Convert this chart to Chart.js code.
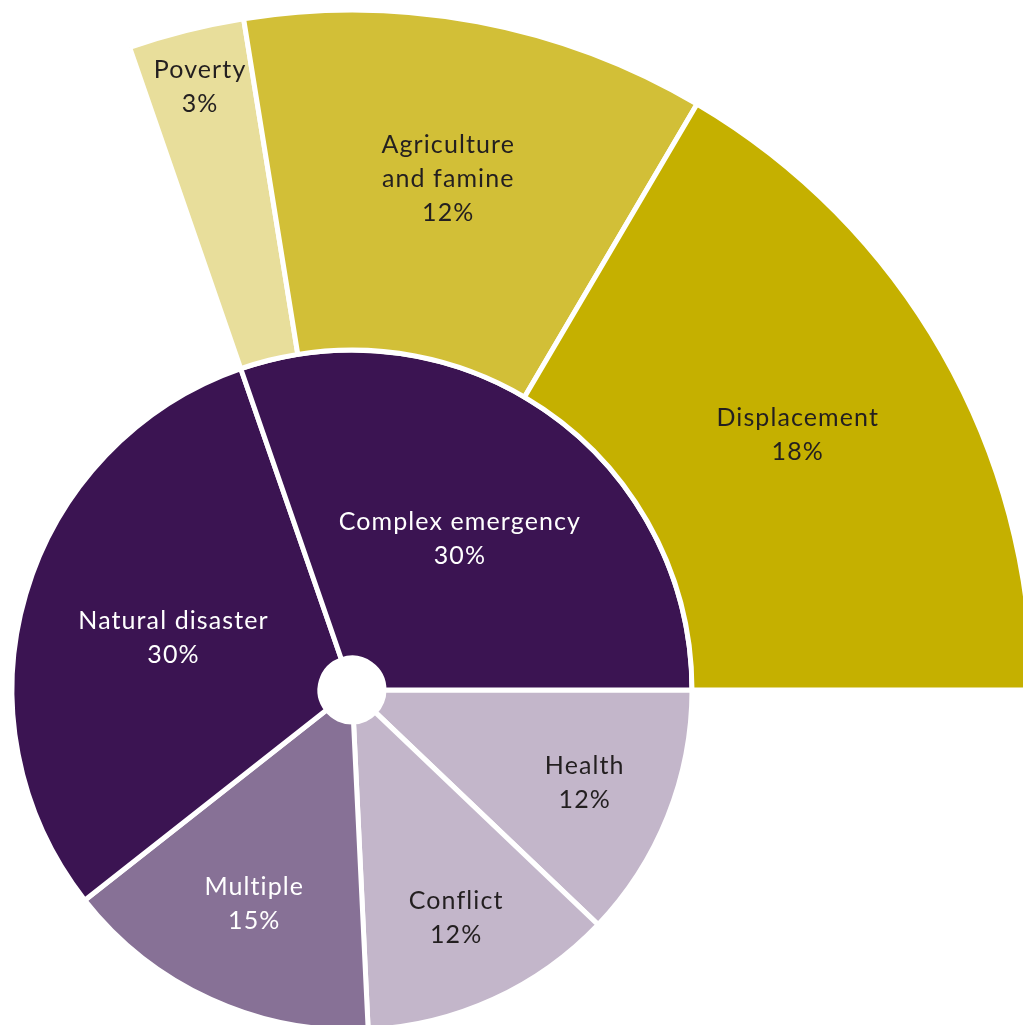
<!DOCTYPE html>
<html>
<head>
<meta charset="utf-8">
<script src="https://cdn.jsdelivr.net/npm/chart.js@4.4.1/dist/chart.umd.min.js"></script>
<style>
  html, body { margin: 0; padding: 0; background: #fff; }
  body { width: 1023px; height: 1025px; overflow: hidden; position: relative; }
  /* chart centre sits at (352, 690) of the page */
  #wrap { position: absolute; left: -348px; top: -10px; width: 1400px; height: 1400px; }
</style>
</head>
<body>
<div id="wrap"><canvas id="chart"></canvas></div>
<script>
// inner ring, clockwise from 3 o'clock
const innerLabels = ['Health', 'Conflict', 'Multiple', ['Natural disaster'], ['Complex emergency']];
const innerValues = [12, 12, 15, 30, 30];
const innerColors = ['#c3b6ca', '#c3b6ca', '#877196', '#3b1452', '#3b1452'];
const innerText = ['#231f20', '#231f20', '#ffffff', '#ffffff', '#ffffff'];
const innerLabelPos = [0.71, 0.71, 0.66, 0.5, 0.5];

// outer ring: breakdown of complex emergency, clockwise
const outerLabels = ['Poverty', ['Agriculture', 'and famine'], 'Displacement'];
const outerValues = [3, 12, 18];
const outerColors = ['#e8de9b', '#d2bf37', '#c5b000'];
const outerText = ['#231f20', '#231f20', '#231f20'];
const outerLabelPos = [0.83, 0.53, 0.51];

// outer ring spans exactly the complex emergency slice
const innerTotal = innerValues.reduce((a, b) => a + b, 0);
const complexStart = 90 + 360 * innerValues.slice(0, 4).reduce((a, b) => a + b, 0) / innerTotal;
const complexSweep = 360 * innerValues[4] / innerTotal;

const sliceLabels = {
  id: 'sliceLabels',
  afterDatasetsDraw(chart) {
    const ctx = chart.ctx;
    ctx.save();
    ctx.font = '25px Lato, "Open Sans", sans-serif';
    ctx.letterSpacing = '1.1px';
    ctx.textAlign = 'center';
    ctx.textBaseline = 'middle';
    chart.data.datasets.forEach((ds, di) => {
      chart.getDatasetMeta(di).data.forEach((arc, i) => {
        const p = arc.getProps(['x', 'y', 'startAngle', 'endAngle', 'innerRadius', 'outerRadius'], true);
        const a = (p.startAngle + p.endAngle) / 2;
        const r = p.innerRadius + ds.labelPos[i] * (p.outerRadius - p.innerRadius);
        const name = ds.names[i];
        const lines = (Array.isArray(name) ? name : [name]).concat(ds.data[i] + '%');
        const cx = p.x + Math.cos(a) * r;
        const cy = p.y + Math.sin(a) * r;
        ctx.fillStyle = ds.textColors[i];
        lines.forEach((ln, k) => {
          ctx.fillText(ln, cx, cy + (k - (lines.length - 1) / 2) * 34);
        });
      });
    });
    ctx.restore();
  }
};

new Chart(document.getElementById('chart'), {
  type: 'doughnut',
  data: {
    datasets: [
      {
        data: outerValues,
        names: outerLabels,
        textColors: outerText,
        labelPos: outerLabelPos,
        backgroundColor: outerColors,
        borderColor: '#ffffff',
        borderWidth: 5,
        weight: 340,
        rotation: complexStart,
        circumference: complexSweep,
      },
      {
        data: innerValues,
        names: innerLabels,
        textColors: innerText,
        labelPos: innerLabelPos,
        backgroundColor: innerColors,
        borderColor: '#ffffff',
        borderWidth: 5,
        weight: 308,
        rotation: 90,
        circumference: 360,
      },
    ],
  },
  options: {
    responsive: true, maintainAspectRatio: false, animation: false,
    radius: 680,
    cutout: (32 / 680 * 100) + '%',
    layout: { padding: 0 },
    plugins: { legend: { display: false }, tooltip: { enabled: false } },
  },
  plugins: [sliceLabels],
});
</script>
</body>
</html>
